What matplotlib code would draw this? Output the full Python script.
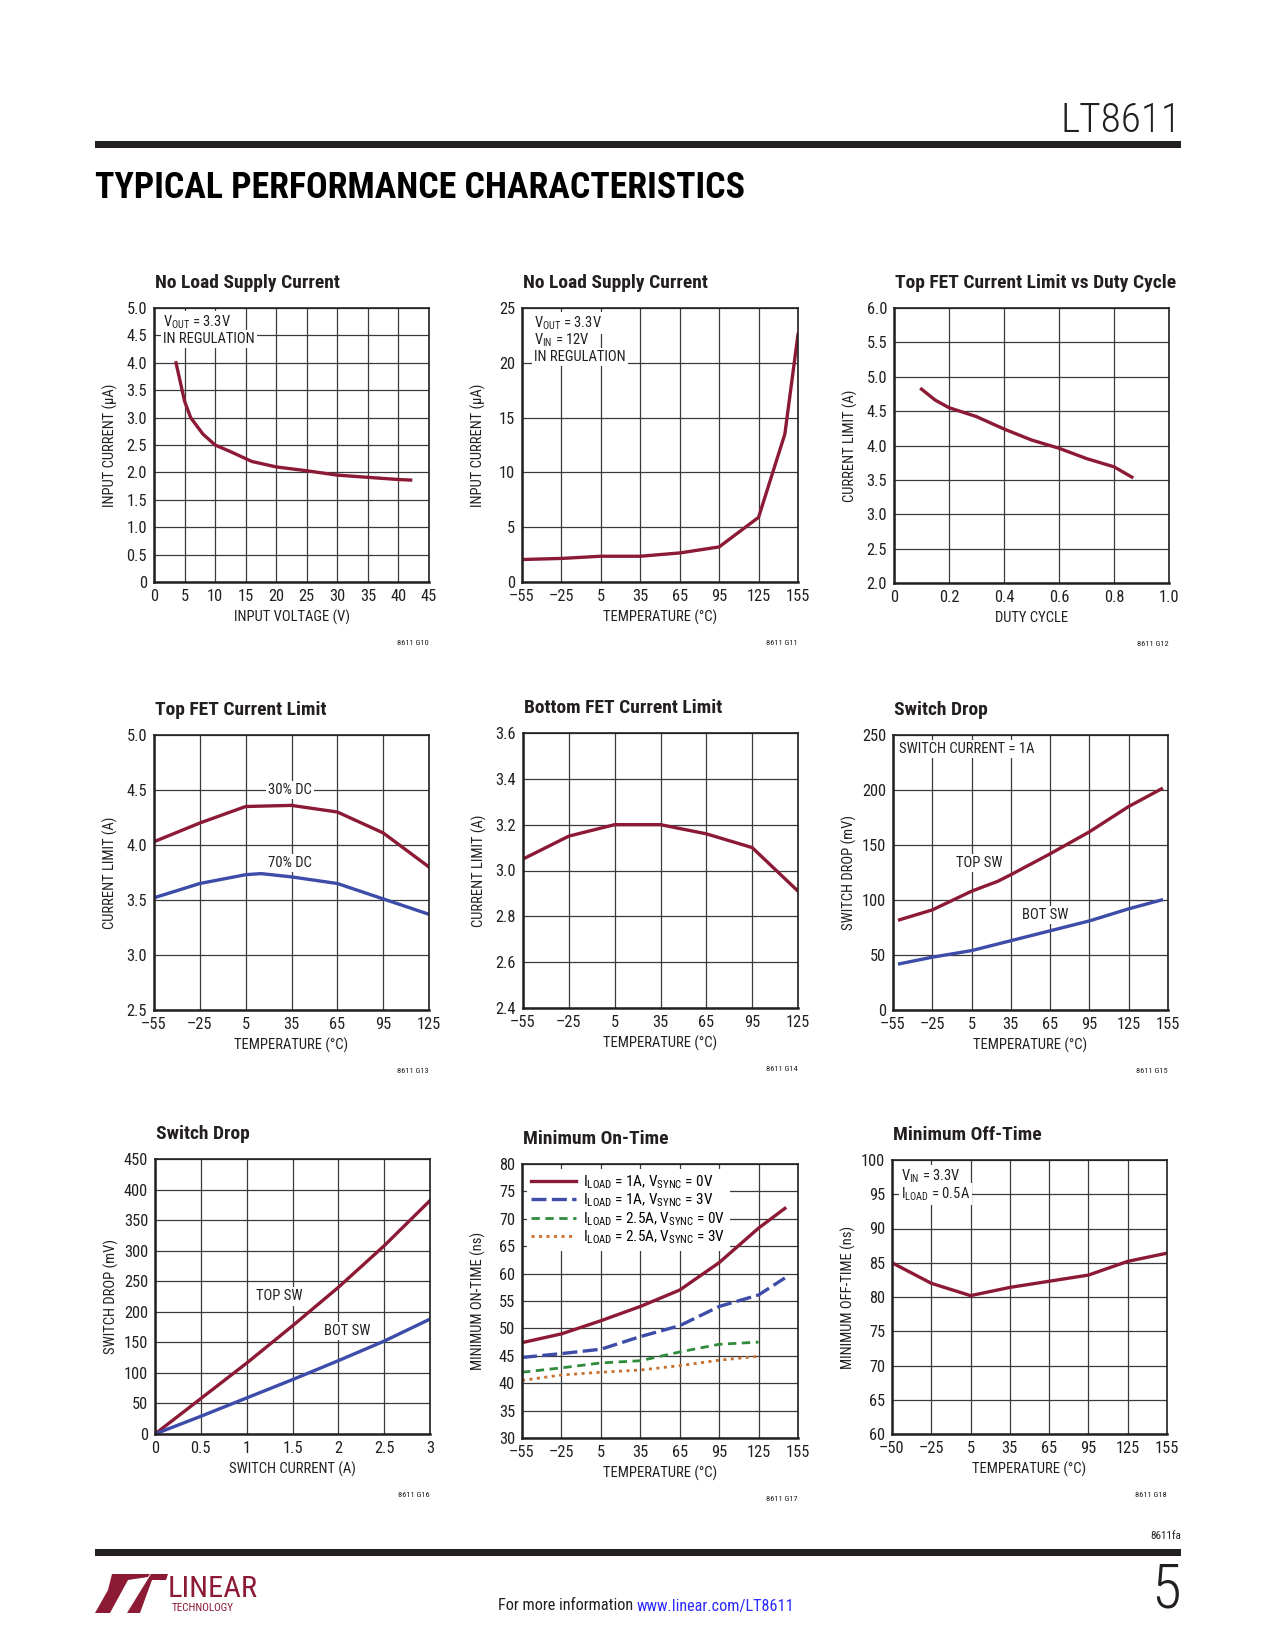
import matplotlib
matplotlib.use('Agg')
import matplotlib.pyplot as plt
from matplotlib import font_manager
from matplotlib.patches import Rectangle, Polygon

# ---- data ----
# G10 no load supply current vs input voltage
vin = [3.6, 5, 6, 8, 10, 12.5, 16, 20, 25, 30, 35, 40, 42]
iq_vin = [4.0, 3.3, 3.0, 2.7, 2.5, 2.38, 2.2, 2.1, 2.03, 1.95, 1.91, 1.87, 1.86]
# G11 no load supply current vs temperature
t_iq = [-55, -25, 5, 35, 65, 95, 125, 145, 155]
iq_t = [2.05, 2.15, 2.35, 2.35, 2.65, 3.2, 5.9, 13.5, 22.6]
# G12 top FET current limit vs duty cycle
duty = [0.1, 0.15, 0.2, 0.3, 0.4, 0.5, 0.6, 0.7, 0.8, 0.865]
ilim_duty = [4.82, 4.66, 4.55, 4.42, 4.24, 4.08, 3.96, 3.81, 3.69, 3.54]
# G13 top FET current limit vs temperature
t_top30 = [-55, -25, 5, 35, 65, 95, 125]
top30 = [4.03, 4.20, 4.35, 4.36, 4.30, 4.11, 3.80]
t_top70 = [-55, -25, 5, 15, 35, 65, 95, 125]
top70 = [3.52, 3.65, 3.73, 3.74, 3.71, 3.65, 3.51, 3.37]
# G14 bottom FET current limit
t_bot = [-55, -25, 5, 35, 65, 95, 125]
bot_lim = [3.05, 3.15, 3.20, 3.20, 3.16, 3.10, 2.91]
# G15 switch drop vs temperature
t_sw = [-50, -25, 5, 25, 35, 65, 95, 125, 150]
top_sw_t = [82, 91, 108, 117, 123, 142, 162, 185, 201]
bot_sw_t = [42, 48, 54, 60, 63, 72, 81, 92, 100]
# G16 switch drop vs switch current
isw = [0, 0.5, 1, 1.5, 2, 2.5, 3]
top_sw_i = [0, 58, 116, 177, 240, 308, 382]
bot_sw_i = [0, 29, 59, 89, 120, 152, 188]
# G17 minimum on-time
t_on = [-55, -25, 5, 35, 65, 95, 125, 145]
on_1a_0v = [47.4, 49.0, 51.4, 54.0, 57.0, 62.0, 68.3, 71.9]
on_1a_3v = [44.7, 45.4, 46.2, 48.5, 50.5, 54.0, 56.1, 59.2]
t_on2 = [-55, -25, 5, 35, 65, 95, 125]
on_25a_0v = [42.0, 42.8, 43.7, 44.1, 45.7, 47.1, 47.5]
on_25a_3v = [40.5, 41.5, 42.0, 42.4, 43.2, 44.2, 44.9]
# G18 minimum off-time
t_off = [-55, -25, 5, 35, 65, 95, 125, 155]
off_time = [85.0, 82.0, 80.2, 81.4, 82.3, 83.2, 85.2, 86.4]

temp_ticks = [-55, -25, 5, 35, 65, 95, 125, 155]
temp_labels = ['–55', '–25', '5', '35', '65', '95', '125', '155']

# ---- fonts: prefer a narrow face, like the datasheet ----
entries = font_manager.fontManager.ttflist
FONT, STRETCH = 'Liberation Sans', 'normal'
for cand in ['Liberation Sans Narrow', 'Roboto Condensed', 'DejaVu Sans', 'Noto Sans',
             'Open Sans', 'Roboto', 'Liberation Sans']:
    same = [f for f in entries if f.name == cand]
    if cand == 'Liberation Sans Narrow' and same:
        FONT, STRETCH = cand, 'normal'
        break
    if any(str(f.stretch) not in ('normal', '400', '500') for f in same):
        FONT, STRETCH = cand, 'condensed'
        break

plt.rcParams['font.family'] = [FONT, 'DejaVu Sans']
plt.rcParams['font.stretch'] = STRETCH
plt.rcParams['mathtext.fontset'] = 'custom'
plt.rcParams['mathtext.rm'] = FONT

RED = '#8c1a35'
BLUE = '#3c4ca8'
GREEN = '#2f8c3c'
ORANGE = '#c8702e'
INK = '#231f20'
LW = 2.4

W, H = 1275, 1650
fig = plt.figure(figsize=(W / 100, H / 100), dpi=100)
fig.patch.set_facecolor('white')
renderer = fig.canvas.get_renderer()


def text_width(s, size, weight='normal'):
    t = fig.text(0, 0, s, fontsize=size, fontweight=weight)
    w = t.get_window_extent(renderer).width
    t.remove()
    return w


def fit(s, size, target, weight='normal'):
    return min(size, size * target / text_width(s, size, weight))


TS = fit('No Load Supply Current', 14, 192, 'bold')
LS = fit('INPUT VOLTAGE (V)', 10.5, 117)
KS = LS * 1.12   # tick numbers are a touch larger than the axis titles


def fx(x):
    return x / W


def fy(y):
    return 1 - y / H


def make_ax(l, t, r, b):
    return fig.add_axes([l / W, 1 - b / H, (r - l) / W, (b - t) / H])


def style(ax, xlim, xticks, xlabels, ylim, yticks, ylabels, xlabel, ylabel, title, code):
    ax.set_xlim(xlim)
    ax.set_ylim(ylim)
    ax.set_xticks(xticks)
    ax.set_xticklabels(xlabels)
    ax.set_yticks(yticks)
    ax.set_yticklabels(ylabels)
    ax.grid(True, color='#3a3a3a', lw=0.9)
    ax.set_axisbelow(True)
    ax.tick_params(length=0, labelsize=KS, pad=5, colors=INK)
    for k, s in ax.spines.items():
        s.set_color(INK)
        s.set_linewidth(1.8 if k in ('left', 'bottom') else 1.2)
    bbox = ax.get_position()
    hpx = bbox.height * H
    wpx = bbox.width * W
    ax.set_xlabel(xlabel, fontsize=LS, color=INK, va='center', ha='center')
    ax.xaxis.set_label_coords(0.5, -35 / hpx)
    ax.set_ylabel(ylabel, fontsize=LS, color=INK, va='center', ha='center')
    ax.yaxis.set_label_coords(-44 / wpx, 0.5)
    ax.text(0.005, 1 + 25 / hpx, title, transform=ax.transAxes, fontsize=TS,
            fontweight='bold', color=INK, ha='left', va='center')
    ax.text(1, -61 / hpx, code, transform=ax.transAxes, fontsize=6,
            color=INK, ha='right', va='center')


def note(ax, lines, dx, dy, step=17):
    for i, s in enumerate(lines):
        ax.annotate(s, xy=(0, 1), xycoords='axes fraction', xytext=(dx, -(dy + i * step)),
                    textcoords='offset pixels', fontsize=LS, color=INK, ha='left', va='center',
                    bbox=dict(fc='white', ec='none', pad=1.5))


def label(ax, x, y, s):
    ax.text(x, y, s, fontsize=LS, color=INK, ha='center', va='center',
            bbox=dict(fc='white', ec='none', pad=1.5))


# ---- row 1 ----
ax = make_ax(154, 308, 429, 582)
ax.plot(vin, iq_vin, color=RED, lw=LW)
style(ax, (0, 45), range(0, 50, 5), [str(v) for v in range(0, 50, 5)],
      (0, 5), [i * 0.5 for i in range(11)], ['0'] + ['%.1f' % (i * 0.5) for i in range(1, 11)],
      'INPUT VOLTAGE (V)', 'INPUT CURRENT (µA)', 'No Load Supply Current', '8611 G10')
note(ax, [r'V$_{\mathregular{OUT}}$ = 3.3V', 'IN REGULATION'], 9, 14)

ax = make_ax(522, 308, 798, 582)
ax.plot(t_iq, iq_t, color=RED, lw=LW)
style(ax, (-55, 155), temp_ticks, temp_labels,
      (0, 25), range(0, 30, 5), [str(v) for v in range(0, 30, 5)],
      'TEMPERATURE (°C)', 'INPUT CURRENT (µA)', 'No Load Supply Current', '8611 G11')
note(ax, [r'V$_{\mathregular{OUT}}$ = 3.3V', r'V$_{\mathregular{IN}}$ = 12V', 'IN REGULATION'], 12, 15)

ax = make_ax(894, 308, 1169, 583)
ax.plot(duty, ilim_duty, color=RED, lw=LW)
style(ax, (0, 1), [0, 0.2, 0.4, 0.6, 0.8, 1.0], ['0', '0.2', '0.4', '0.6', '0.8', '1.0'],
      (2, 6), [2 + i * 0.5 for i in range(9)], ['%.1f' % (2 + i * 0.5) for i in range(9)],
      'DUTY CYCLE', 'CURRENT LIMIT (A)', 'Top FET Current Limit vs Duty Cycle', '8611 G12')

# ---- row 2 ----
ax = make_ax(154, 735, 429, 1010)
ax.plot(t_top30, top30, color=RED, lw=LW)
ax.plot(t_top70, top70, color=BLUE, lw=LW)
style(ax, (-55, 125), temp_ticks[:-1], temp_labels[:-1],
      (2.5, 5.0), [2.5, 3.0, 3.5, 4.0, 4.5, 5.0], ['2.5', '3.0', '3.5', '4.0', '4.5', '5.0'],
      'TEMPERATURE (°C)', 'CURRENT LIMIT (A)', 'Top FET Current Limit', '8611 G13')
label(ax, 34, 4.5, '30% DC')
label(ax, 34, 3.84, '70% DC')

ax = make_ax(523, 733, 798, 1008)
ax.plot(t_bot, bot_lim, color=RED, lw=LW)
style(ax, (-55, 125), temp_ticks[:-1], temp_labels[:-1],
      (2.4, 3.6), [2.4, 2.6, 2.8, 3.0, 3.2, 3.4, 3.6], ['2.4', '2.6', '2.8', '3.0', '3.2', '3.4', '3.6'],
      'TEMPERATURE (°C)', 'CURRENT LIMIT (A)', 'Bottom FET Current Limit', '8611 G14')

ax = make_ax(893, 735, 1168, 1010)
ax.plot(t_sw, top_sw_t, color=RED, lw=LW)
ax.plot(t_sw, bot_sw_t, color=BLUE, lw=LW)
style(ax, (-55, 155), temp_ticks, temp_labels,
      (0, 250), range(0, 300, 50), [str(v) for v in range(0, 300, 50)],
      'TEMPERATURE (°C)', 'SWITCH DROP (mV)', 'Switch Drop', '8611 G15')
note(ax, ['SWITCH CURRENT = 1A'], 6, 14)
label(ax, 11, 134, 'TOP SW')
label(ax, 61, 86, 'BOT SW')

# ---- row 3 ----
ax = make_ax(155, 1159, 430, 1434)
ax.plot(isw, top_sw_i, color=RED, lw=LW)
ax.plot(isw, bot_sw_i, color=BLUE, lw=LW)
style(ax, (0, 3), isw, ['0', '0.5', '1', '1.5', '2', '2.5', '3'],
      (0, 450), range(0, 500, 50), [str(v) for v in range(0, 500, 50)],
      'SWITCH CURRENT (A)', 'SWITCH DROP (mV)', 'Switch Drop', '8611 G16')
label(ax, 1.36, 225, 'TOP SW')
label(ax, 2.1, 169, 'BOT SW')

ax = make_ax(522, 1164, 798, 1438)
ax.plot(t_on, on_1a_0v, color=RED, lw=LW,
        label=r'I$_{\mathregular{LOAD}}$ = 1A, V$_{\mathregular{SYNC}}$ = 0V')
ax.plot(t_on, on_1a_3v, color=BLUE, lw=LW, dashes=(4.5, 1.6),
        label=r'I$_{\mathregular{LOAD}}$ = 1A, V$_{\mathregular{SYNC}}$ = 3V')
ax.plot(t_on2, on_25a_0v, color=GREEN, lw=2.0, dashes=(3.0, 2.0),
        label=r'I$_{\mathregular{LOAD}}$ = 2.5A, V$_{\mathregular{SYNC}}$ = 0V')
ax.plot(t_on2, on_25a_3v, color=ORANGE, lw=2.0, dashes=(1.1, 1.6),
        label=r'I$_{\mathregular{LOAD}}$ = 2.5A, V$_{\mathregular{SYNC}}$ = 3V')
style(ax, (-55, 155), temp_ticks, temp_labels,
      (30, 80), range(30, 85, 5), [str(v) for v in range(30, 85, 5)],
      'TEMPERATURE (°C)', 'MINIMUM ON-TIME (ns)', 'Minimum On-Time', '8611 G17')
leg = ax.legend(loc='upper left', bbox_to_anchor=(0, 1), fontsize=LS * 1.05, frameon=True,
                fancybox=False, framealpha=1, edgecolor='none', handlelength=2.9,
                handletextpad=0.5, labelspacing=0.05, borderpad=0.3, borderaxespad=0.3)
leg.get_frame().set_linewidth(0)

ax = make_ax(892, 1160, 1167, 1434)
ax.plot(t_off, off_time, color=RED, lw=LW)
style(ax, (-55, 155), temp_ticks, ['–50'] + temp_labels[1:],
      (60, 100), range(60, 105, 5), [str(v) for v in range(60, 105, 5)],
      'TEMPERATURE (°C)', 'MINIMUM OFF-TIME (ns)', 'Minimum Off-Time', '8611 G18')
note(ax, [r'V$_{\mathregular{IN}}$ = 3.3V', r'I$_{\mathregular{LOAD}}$ = 0.5A'], 9, 16, step=18)

# ---- page furniture ----
fig.text(fx(1181), fy(121), 'LT8611', fontsize=fit('LT8611', 34, 121, 'light'), color=INK,
         fontweight='light', ha='right', va='center')
fig.add_artist(Rectangle((fx(95), fy(148)), fx(1181) - fx(95), 7 / H,
                         transform=fig.transFigure, fc=INK, ec='none'))
head = 'TYPICAL PERFORMANCE CHARACTERISTICS'
fig.text(fx(95), fy(188), head, fontsize=fit(head, 30, 650, 'heavy'),
         fontweight='heavy', color='black', ha='left', va='center')

fig.text(fx(1181), fy(1536), '8611fa', fontsize=8, color=INK, ha='right', va='center')
fig.add_artist(Rectangle((fx(95), fy(1556)), fx(1181) - fx(95), 7 / H,
                         transform=fig.transFigure, fc=INK, ec='none'))

# logo mark
logo_l = [(95, 1613), (110, 1613), (128, 1580), (148, 1577), (150, 1574), (112, 1574), (108, 1590)]
logo_t = [(127, 1613), (140, 1613), (152, 1580), (166, 1580), (168, 1574), (151, 1574)]
for pts in (logo_l, logo_t):
    fig.add_artist(Polygon([(fx(x), fy(y)) for x, y in pts], closed=True,
                           transform=fig.transFigure, fc=RED, ec='none'))
fig.text(fx(168), fy(1589), 'LINEAR', fontsize=fit('LINEAR', 24, 90), color=RED,
         ha='left', va='center')
fig.text(fx(172), fy(1608), 'TECHNOLOGY', fontsize=fit('TECHNOLOGY', 8, 86), color=RED,
         ha='left', va='center')

FS = fit('For more information www.linear.com/LT8611', 12, 298)
fig.text(fx(637), fy(1606), 'For more information ', fontsize=FS, color=INK, ha='right', va='center')
fig.text(fx(637), fy(1606), 'www.linear.com/LT8611', fontsize=FS, color='#2a2aff', ha='left', va='center')
fig.text(fx(1181), fy(1590), '5', fontsize=44, fontweight='light', color=INK, ha='right', va='center')

fig.savefig('out.png', dpi=100)
